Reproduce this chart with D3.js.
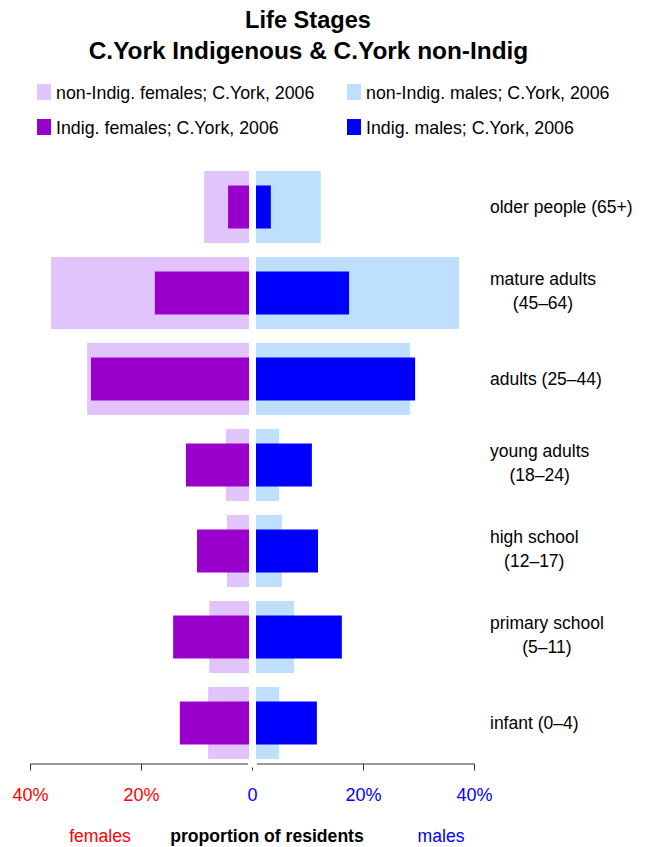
<!DOCTYPE html>
<html>
<head>
<meta charset="utf-8">
<script src="https://cdn.jsdelivr.net/npm/d3@7/dist/d3.min.js"></script>
<style>
  html, body { margin: 0; padding: 0; background: #fff; }
  svg { display: block; font-family: "Liberation Sans", Arial, Helvetica, sans-serif; }
</style>
</head>
<body>
<div id="chart"></div>
<script>
// Life stages, top to bottom
const stages = ['older people (65+)', 'mature adults|(45\u201364)', 'adults (25\u201344)',
  'young adults|(18\u201324)', 'high school|(12\u201317)', 'primary school|(5\u201311)', 'infant (0\u20134)'];

// percent of residents per stage
const nonIndigFemales = [8.7, 36.3, 29.8, 4.8, 4.6, 7.8, 8.0];
const nonIndigMales   = [12.3, 37.2, 28.4, 4.8, 5.3, 7.5, 4.8];
const indigFemales    = [4.4, 17.6, 29.1, 12.0, 10.0, 14.3, 13.1];
const indigMales      = [3.3, 17.4, 29.3, 10.7, 11.8, 16.1, 11.6];

const ticks = [0, 20, 40];

const legendItems = [
  {label: 'non-Indig. females; C.York, 2006', color: '#e1c4fb'},
  {label: 'non-Indig. males; C.York, 2006', color: '#bfdfff'},
  {label: 'Indig. females; C.York, 2006', color: '#9900cc'},
  {label: 'Indig. males; C.York, 2006', color: '#0000ff'}
];

function renderChart() {
  const width = 648, height = 847;
  const cx = 252.5;      // centre of the pyramid
  const gap = 3.5;       // half width of the white gap
  const axisY = 764;

  const svg = d3.select('#chart').append('svg')
    .attr('width', width)
    .attr('height', height);

  // titles
  svg.append('text').attr('x', 308).attr('y', 28)
    .attr('text-anchor', 'middle').attr('font-weight', 'bold').attr('font-size', 23.6)
    .text('Life Stages');
  svg.append('text').attr('x', 308.5).attr('y', 59)
    .attr('text-anchor', 'middle').attr('font-weight', 'bold').attr('font-size', 24.4)
    .text('C.York Indigenous & C.York non-Indig');

  // legend, 2 x 2
  const legend = svg.append('g').selectAll('g')
    .data(legendItems)
    .join('g')
    .attr('transform', (d, i) => 'translate(' + (i % 2 ? 347 : 37) + ',' + (i < 2 ? 92 : 127) + ')');
  legend.append('rect').attr('x', 0).attr('y', -8).attr('width', 14).attr('height', 16)
    .attr('fill', d => d.color);
  legend.append('text').attr('x', 19).attr('y', 6.5).attr('font-size', 17.8)
    .text(d => d.label);

  // scales
  const y = d3.scaleBand().domain(stages).range([164, 766])
    .paddingInner(0.163).paddingOuter(0.0815);
  const xLeft = d3.scaleLinear().domain([0, 40]).range([cx, cx - 222]);
  const xRight = d3.scaleLinear().domain([0, 40]).range([cx, cx + 222]);

  const step = y.step();
  const wideH = y.bandwidth();
  const narrowH = step * 0.5;

  const drawBars = (values, scale, side, h, color) => {
    svg.append('g').selectAll('rect')
      .data(values)
      .join('rect')
      .attr('x', d => side < 0 ? scale(d) : cx + gap)
      .attr('width', d => Math.max(0, side < 0 ? (cx - gap) - scale(d) : scale(d) - (cx + gap)))
      .attr('y', (d, i) => y(stages[i]) + wideH / 2 - h / 2)
      .attr('height', h)
      .attr('fill', color);
  };

  drawBars(nonIndigFemales, xLeft, -1, wideH, legendItems[0].color);
  drawBars(nonIndigMales, xRight, 1, wideH, legendItems[1].color);
  drawBars(indigFemales, xLeft, -1, narrowH, legendItems[2].color);
  drawBars(indigMales, xRight, 1, narrowH, legendItems[3].color);

  // stage labels on the right
  const labels = svg.append('g').selectAll('g')
    .data(stages)
    .join('g')
    .attr('transform', d => 'translate(490,' + (y(d) + wideH / 2) + ')');
  labels.each(function(d) {
    const g = d3.select(this);
    const parts = d.split('|');
    if (parts.length === 1) {
      g.append('text').attr('y', 6).attr('font-size', 17.5).text(parts[0]);
    } else {
      const first = g.append('text').attr('y', -8).attr('font-size', 17.5).text(parts[0]);
      const w = first.node().getComputedTextLength();
      g.append('text').attr('x', w / 2).attr('y', 16).attr('text-anchor', 'middle')
        .attr('font-size', 17.5).text(parts[1]);
    }
  });

  // axes: left and right halves with a break at the centre
  const axisColor = '#333';
  svg.append('line').attr('x1', xLeft(40)).attr('x2', cx - 4.5)
    .attr('y1', axisY).attr('y2', axisY).attr('stroke', axisColor);
  svg.append('line').attr('x1', cx + 4.5).attr('x2', xRight(40))
    .attr('y1', axisY).attr('y2', axisY).attr('stroke', axisColor);
  svg.append('line').attr('x1', cx).attr('x2', cx)
    .attr('y1', axisY + 3.5).attr('y2', axisY + 6.5).attr('stroke', axisColor);

  const sideTicks = ticks.filter(t => t > 0);
  [[xLeft, '#ff0000'], [xRight, '#0000ff']].forEach(([scale, color]) => {
    svg.append('g').selectAll('line')
      .data(sideTicks)
      .join('line')
      .attr('x1', d => scale(d)).attr('x2', d => scale(d))
      .attr('y1', axisY).attr('y2', axisY + 6.5)
      .attr('stroke', axisColor);
    svg.append('g').selectAll('text')
      .data(sideTicks)
      .join('text')
      .attr('x', d => scale(d)).attr('y', 801)
      .attr('text-anchor', 'middle').attr('font-size', 18).attr('fill', color)
      .text(d => d + '%');
  });
  svg.append('text').attr('x', cx).attr('y', 801)
    .attr('text-anchor', 'middle').attr('font-size', 18).attr('fill', '#0000ff')
    .text(ticks[0]);

  // axis titles
  svg.append('text').attr('x', 100).attr('y', 842).attr('text-anchor', 'middle')
    .attr('font-size', 17.6).attr('fill', '#ff0000').text('females');
  svg.append('text').attr('x', 267).attr('y', 842).attr('text-anchor', 'middle')
    .attr('font-size', 17.6).attr('font-weight', 'bold').text('proportion of residents');
  svg.append('text').attr('x', 441).attr('y', 842).attr('text-anchor', 'middle')
    .attr('font-size', 17.6).attr('fill', '#0000ff').text('males');
}

renderChart();
</script>
</body>
</html>
